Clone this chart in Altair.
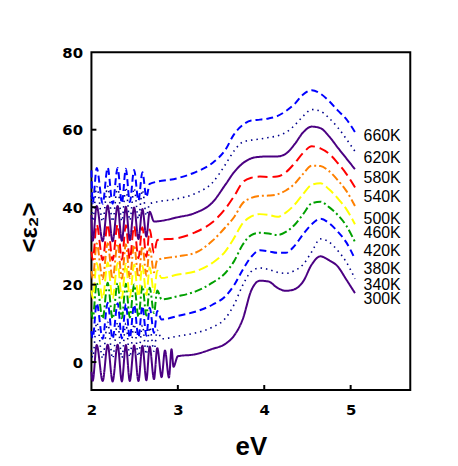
import altair as alt
import pandas as pd

temps = ["300K", "340K", "380K", "420K", "460K", "500K", "540K", "580K", "620K", "660K"]

# photon energy (eV) of the fringe extremes in the transparent region
osc_x = [2.000, 2.015, 2.061, 2.130, 2.188, 2.245, 2.303, 2.352, 2.398, 2.444, 2.494,
         2.544, 2.590, 2.636, 2.674, 2.724, 2.762, 2.812, 2.851, 2.897, 2.927, 2.950]
# photon energy (eV) of the absorption region
smooth_x = [3.00, 3.20, 3.40, 3.55, 3.65, 3.75, 3.85, 3.95, 4.05, 4.15, 4.25, 4.35,
            4.45, 4.55, 4.65, 4.75, 4.85, 4.95, 5.05]

osc_300 = [-2.5, -4.8, 4.4, -4.9, 4.5, -5.0, 4.5, -5.0, 4.4, -4.9, 4.3, -4.9, 4.2, -4.7, 4.0, -4.4, 3.6, -3.9, 3.0, -4.0, 3.3, -1.2]
osc_340 = [3.0, 1.2, 10.2, 1.0, 10.3, 1.0, 10.2, 1.1, 10.0, 1.3, 9.8, 1.5, 9.5, 2.0, 9.0, 2.8, 8.2, 6.0]
osc_380 = [8.0, 6.2, 15.2, 6.0, 15.3, 6.0, 15.2, 6.1, 15.0, 6.2, 14.8, 6.4, 14.5, 6.8, 14.0, 7.5, 13.2, 11.0]
osc_420 = [13.0, 11.3, 20.4, 11.2, 20.5, 11.2, 20.4, 11.3, 20.2, 11.5, 20.0, 11.7, 19.7, 12.0, 19.2, 12.7, 18.5, 16.2]
osc_460 = [18.5, 16.5, 25.6, 16.4, 25.7, 16.4, 25.6, 16.5, 25.4, 16.7, 25.2, 16.9, 24.9, 17.3, 24.4, 18.0, 23.6, 21.7]
osc_500 = [23.5, 21.5, 30.6, 21.4, 30.7, 21.4, 30.6, 21.5, 30.4, 21.7, 30.2, 21.9, 29.9, 22.3, 29.4, 23.2, 26.4]
osc_540 = [28.5, 26.4, 35.5, 26.3, 35.6, 26.3, 35.5, 26.4, 35.3, 26.6, 35.1, 26.8, 34.8, 27.2, 34.2, 28.2, 31.5]
osc_580 = [38.0, 31.3, 40.3, 31.2, 40.4, 31.2, 40.3, 31.3, 40.1, 31.5, 39.9, 31.8, 39.5, 32.4, 38.8, 36.3]
osc_620 = [43.0, 36.4, 45.3, 36.3, 45.4, 36.3, 45.3, 36.4, 45.1, 36.6, 44.9, 37.0, 44.4, 37.8, 40.9]
osc_660 = [49.5, 41.0, 50.1, 40.9, 50.2, 40.9, 50.1, 41.0, 49.9, 41.3, 49.6, 41.7, 49.0, 42.6, 46.0]

sm_300 = [1.5, 2.0, 3.4, 4.7, 6.8, 11.0, 18.5, 21.0, 20.8, 19.2, 18.4, 18.8, 20.8, 25.2, 27.3, 26.3, 24.7, 21.3, 17.8]
sm_340 = [6.7, 7.5, 9.0, 11.3, 14.8, 19.8, 23.4, 24.3, 23.9, 23.2, 22.9, 23.6, 25.2, 28.5, 31.8, 31.0, 28.8, 25.8, 21.5]
sm_380 = [11.9, 13.0, 14.8, 17.0, 19.8, 23.8, 27.2, 28.9, 28.6, 28.2, 28.2, 30.0, 33.0, 35.6, 37.0, 35.9, 33.7, 30.9, 26.6]
sm_420 = [17.0, 18.2, 20.5, 23.0, 26.0, 30.3, 32.8, 33.4, 33.2, 32.8, 33.6, 35.4, 38.2, 41.0, 41.4, 40.0, 38.0, 35.2, 31.0]
sm_460 = [22.6, 23.4, 25.6, 28.6, 32.0, 35.8, 37.6, 38.2, 38.0, 37.5, 38.6, 40.6, 43.4, 45.8, 46.2, 44.6, 42.3, 39.5, 35.6]
sm_500 = [27.3, 28.2, 31.3, 34.8, 37.4, 41.0, 42.4, 42.9, 43.0, 43.3, 44.3, 46.0, 48.6, 50.7, 50.6, 49.3, 47.0, 44.2, 40.3]
sm_540 = [32.0, 33.5, 36.1, 39.6, 42.8, 46.4, 47.6, 47.9, 47.8, 47.9, 49.0, 51.3, 54.0, 55.7, 55.2, 53.8, 51.4, 48.6, 45.1]
sm_580 = [37.4, 38.5, 41.2, 45.8, 49.0, 51.3, 52.6, 53.0, 53.1, 53.1, 53.8, 56.2, 59.3, 60.8, 60.4, 58.3, 55.4, 52.6, 49.8]
sm_620 = [42.2, 43.5, 46.3, 51.0, 54.5, 56.8, 57.3, 57.6, 58.0, 58.4, 59.3, 61.1, 63.5, 65.2, 64.8, 63.0, 60.6, 57.6, 54.4]
sm_660 = [47.5, 49.0, 51.4, 54.8, 58.8, 61.2, 62.4, 62.6, 62.9, 63.5, 64.8, 66.6, 69.1, 70.2, 69.3, 67.4, 65.0, 62.7, 59.4]

label_x = 5.15
label_y = [16.3, 19.8, 24.1, 28.7, 33.4, 36.9, 42.6, 47.5, 52.6, 58.3]

x_tick_values = [2, 3, 4, 5]
y_tick_values = [0, 20, 40, 60, 80]
x_inner_ticks = [3, 4, 5]
y_inner_ticks = [0, 20, 40, 60]

colors = ["#4B0082", "#00008B", "#0000FF", "#00A000", "#FFFF00",
          "#FF8000", "#FF0000", "#4B0082", "#00008B", "#0000FF"]
dashes = [[1, 0], [1.5, 4], [7, 4], [8, 3, 2, 3], [10, 4],
          [8, 3, 2, 3], [10, 5], [1, 0], [1.5, 4], [7, 4]]
widths = [2, 1.6, 2, 2, 2, 2, 2, 2, 1.6, 2]

oscs = [osc_300, osc_340, osc_380, osc_420, osc_460, osc_500, osc_540, osc_580, osc_620, osc_660]
smooths = [sm_300, sm_340, sm_380, sm_420, sm_460, sm_500, sm_540, sm_580, sm_620, sm_660]

W, H = 321, 340

x_enc = alt.X(
    "eV:Q",
    scale=alt.Scale(domain=[2, 5.69], nice=False, zero=False),
    axis=alt.Axis(
        values=x_tick_values, format="d", title="eV", domain=False, ticks=False, tickSize=0,
        grid=False, labelFont="DejaVu Sans", labelFontWeight="bold", labelFontSize=15,
        labelColor="black", labelPadding=13, labelAngle=0, labelFlush=False,
        titleFont="Liberation Sans", titleFontWeight="bold", titleFontSize=26,
        titleColor="black", titleX=W / 2, titleY=65, titleAlign="center",
        titleBaseline="alphabetic",
    ),
)
y_enc = alt.Y(
    "eps:Q",
    scale=alt.Scale(domain=[-7.2, 80], nice=False, zero=False),
    axis=alt.Axis(
        values=y_tick_values, format="d", title="<ε₂>", domain=False, ticks=False, tickSize=0,
        grid=False, labelFont="DejaVu Sans", labelFontWeight="bold", labelFontSize=15,
        labelColor="black", labelPadding=9, labelFlush=False,
        titleFont="Liberation Sans", titleFontWeight="bold", titleFontSize=24,
        titleColor="black", titleAngle=270, titleX=-55, titleY=176,
        titleAlign="center", titleBaseline="alphabetic",
    ),
)

layers = []
for t, ox, sm, c, d, w in zip(temps, oscs, smooths, colors, dashes, widths):
    xs = osc_x[:len(ox)] + smooth_x
    ys = ox + sm
    df = pd.DataFrame({"eV": xs, "eps": ys, "T": t})
    layers.append(
        alt.Chart(df).mark_line(color=c, strokeDash=d, strokeWidth=w, interpolate="monotone")
        .encode(x=x_enc, y=y_enc, order="eV:Q")
    )

labels_df = pd.DataFrame({"eV": [label_x] * len(temps), "eps": label_y, "T": temps})
labels = alt.Chart(labels_df).mark_text(
    align="left", baseline="middle", font="Liberation Sans", fontSize=16, color="black"
).encode(x=x_enc, y=y_enc, text="T:N")

xt = alt.Chart(pd.DataFrame({"eV": x_inner_ticks})).mark_rule(color="black", strokeWidth=2).encode(
    x=x_enc, y=alt.value(H), y2=alt.value(H - 5)
)
yt = alt.Chart(pd.DataFrame({"eps": y_inner_ticks})).mark_rule(color="black", strokeWidth=2).encode(
    y=y_enc, x=alt.value(0), x2=alt.value(5)
)

chart = alt.layer(*layers, labels, xt, yt).properties(
    width=W, height=H,
    autosize=alt.AutoSizeParams(type="none"),
    padding={"left": 84, "top": 43, "right": 40, "bottom": 72},
    background="white",
).configure_view(stroke="black", strokeWidth=2)

chart.save("out.html", embed_options={"renderer": "svg", "actions": False})
